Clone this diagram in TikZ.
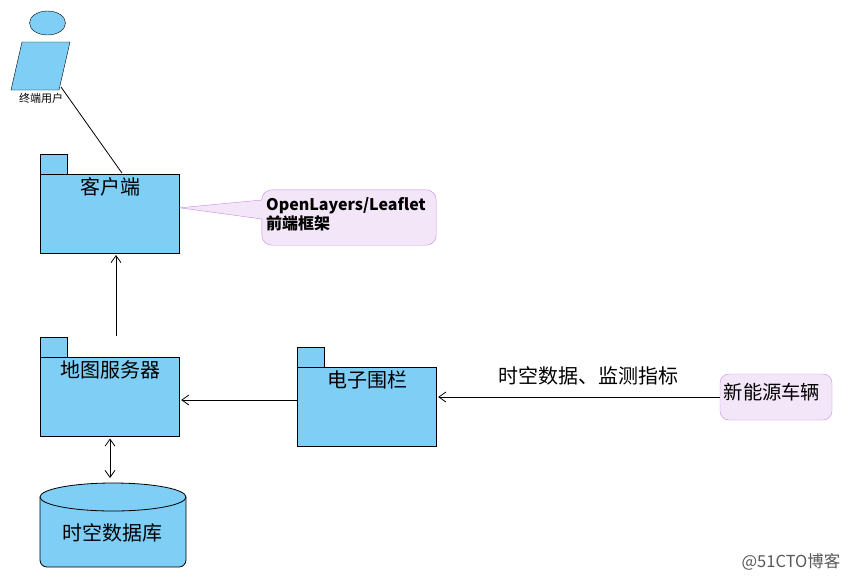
\documentclass[tikz,border=0pt]{standalone}
\usepackage{fontspec}
\setmainfont{Noto Sans CJK SC}
\usepackage{tikz}
\usetikzlibrary{shapes,arrows.meta,positioning}
\definecolor{pkgblue}{HTML}{7ECEF6}
\definecolor{notefill}{HTML}{F3E6F8}
\definecolor{noteline}{HTML}{C98ADF}
\tikzset{
  pkgbox/.style={draw=black,fill=pkgblue,minimum width=139pt,minimum height=79pt,inner sep=0pt},
  pkgtab/.style={draw=black,fill=pkgblue,minimum width=27pt,minimum height=20pt,inner sep=0pt,anchor=south west},
  bigtext/.style={font=\fontsize{20}{22}\selectfont,inner sep=0pt},
  conn/.style={black,line width=0.8pt}
}

\begin{document}
\begin{tikzpicture}[x=1pt,y=-1pt,>={Straight Barb[length=7pt,width=10pt]}]
  \useasboundingbox (0,0) rectangle (850,581);

  % user
  \node[ellipse,draw=black,fill=pkgblue,minimum width=36pt,minimum height=24pt,inner sep=0pt] (head) at (47.5,23) {};
  \draw[draw=black,fill=pkgblue] (22,42) -- (70,42) -- (59,90) -- (11,90) -- cycle;
  \node[font=\fontsize{11}{13}\selectfont,inner sep=0pt] (userlabel) at (41,98) {终端用户};
  \coordinate (userfoot) at (61,87);

  % packages
  \node[pkgbox] (client) at (110,213.8) {};
  \node[pkgtab] (clienttab) at (client.north west) {};
  \node[bigtext] (clienttext) at (110,187) {客户端};

  \node[pkgbox] (server) at (110,396.8) {};
  \node[pkgtab] (servertab) at (server.north west) {};
  \node[bigtext] (servertext) at (110,369.5) {地图服务器};

  \node[pkgbox] (fence) at (367,406.8) {};
  \node[pkgtab] (fencetab) at (fence.north west) {};
  \node[bigtext] (fencetext) at (367.5,379.5) {电子围栏};

  % database
  \node[minimum width=146pt,minimum height=84pt,inner sep=0pt] (dbase) at (113,525) {};
  \draw[draw=black,fill=pkgblue,line width=0.8pt]
       (40,497) [rounded corners=7pt] -- (40,567) -- (186,567) [sharp corners] -- (186,497)
       arc[start angle=0,end angle=-180,x radius=73,y radius=14] -- cycle;
  \draw[draw=black,line width=0.8pt] (40,497) arc[start angle=-180,end angle=-360,x radius=73,y radius=14];
  \node[bigtext] (dbasetext) at (112,533) {时空数据库};

  % callout
  \node[minimum width=174pt,minimum height=55pt,inner sep=0pt] (note) at (349,217.5) {};
  \coordinate (notetip) at (client.east);
  \draw[draw=noteline,fill=notefill] ([yshift=6pt]notetip) -- ([yshift=17.5pt]note.west)
       [rounded corners=10pt] -- (note.north west) -- (note.north east) -- (note.south east) -- (note.south west)
       [sharp corners] -- ([yshift=-1.5pt]note.west) -- cycle;
  \node[font=\fontsize{16}{19}\selectfont\bfseries,align=left,anchor=west,inner sep=0pt] (notetext) at (266,214.5)
       {OpenLayers/Leaflet\\前端框架};

  % vehicle
  \node[draw=noteline,fill=notefill,rounded corners=9pt,minimum width=112pt,minimum height=46pt,inner sep=0pt] (vehicle) at (776,397) {};
  \node[font=\fontsize{19.3}{22}\selectfont,inner sep=0pt,anchor=west] (vehicletext) at (723.5,392) {新能源车辆};

  % connectors
  \draw[conn] (userfoot) -- ([xshift=12pt,yshift=1pt]client.north);
  \coordinate (upstart) at (116,336);
  \draw[conn,->] (upstart) -- ([yshift=-1.5pt]upstart |- client.south);
  \coordinate (sidestart) at (297,400);
  \draw[conn,->] (sidestart) -- ([xshift=1.5pt]sidestart -| server.east);
  \draw[conn,->] (vehicle.west) -- ([xshift=1.5pt]vehicle.west -| fence.east);
  \coordinate (dbtop) at (110,478);
  \draw[conn,<->] (dbtop) -- ([yshift=-2pt]dbtop |- server.south);
  \node[bigtext] (flowtext) at (588.5,376) {时空数据、监测指标};

  % watermark
  \node[font=\fontsize{16.5}{18}\selectfont,text=black!65,inner sep=0pt] (mark) at (791,562) {@51CTO博客};
\end{tikzpicture}
\end{document}
